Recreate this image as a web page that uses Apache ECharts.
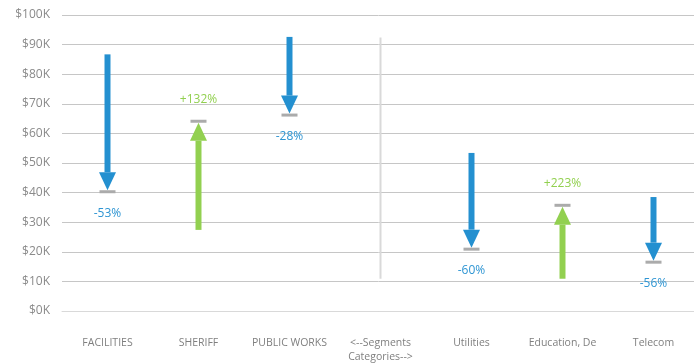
<!DOCTYPE html>
<html>
<head>
<meta charset="utf-8">
<script src="https://cdn.jsdelivr.net/npm/echarts@6/dist/echarts.min.js"></script>
<style>
  html, body { margin: 0; padding: 0; background: #fff; }
  #chart { width: 694px; height: 363px; }
</style>
</head>
<body>
<div id="chart"></div>
<script>
// Spend per category: prior value -> current value, in $K
const categories = ['FACILITIES', 'SHERIFF', 'PUBLIC WORKS', '<--Segments\nCategories-->', 'Utilities', 'Education, De', 'Telecom'];
const startValues = [86.7, 27.4, 92.6, null, 53.4, 10.9, 38.5];
const endValues   = [40.8, 63.6, 66.7, null, 21.4, 35.2, 17.0];
const changeLabels = ['-53%', '+132%', '-28%', '', '-60%', '+223%', '-56%'];
// Vertical separator between the two groups of categories
const dividerIndex = 3;
const dividerRange = [10.9, 92.4];
const yTicks = [0, 10, 20, 30, 40, 50, 60, 70, 80, 90, 100];

const BLUE = '#2490d0';
const GREEN = '#92d050';
const CAP = '#ababab';
const FONT = '"Open Sans", sans-serif';

const arrowData = categories.map((c, i) => [i, startValues[i], endValues[i], changeLabels[i]])
  .filter(d => d[1] != null);

function renderArrow(params, api) {
  const idx = api.value(0);
  const p0 = api.coord([idx, api.value(1)]);
  const p1 = api.coord([idx, api.value(2)]);
  const x = p0[0];
  const down = p1[1] > p0[1];
  const color = down ? BLUE : GREEN;
  const shaftW = 6, headW = 17, headH = 18, capW = 16, capH = 3;
  const dir = down ? 1 : -1;
  const tipY = p1[1];
  const baseY = tipY - dir * headH;
  const shaftTop = Math.min(p0[1], baseY);
  const shaftBottom = Math.max(p0[1], baseY);
  const label = changeLabels[idx];
  return {
    type: 'group',
    children: [
      { type: 'rect', shape: { x: x - shaftW / 2, y: shaftTop, width: shaftW, height: shaftBottom - shaftTop }, style: { fill: color } },
      { type: 'polygon', shape: { points: [[x - headW / 2, baseY], [x + headW / 2, baseY], [x, tipY]] }, style: { fill: color } },
      { type: 'rect', shape: { x: x - capW / 2, y: tipY - (down ? 0 : capH), width: capW, height: capH }, style: { fill: CAP } },
      { type: 'text', style: { text: label, x: x, y: tipY + dir * 23, align: 'center', verticalAlign: 'middle',
          fill: down ? '#2e95d3' : GREEN, font: '12px ' + FONT } }
    ]
  };
}

function renderDivider(params, api) {
  const a = api.coord([dividerIndex, dividerRange[0]]);
  const b = api.coord([dividerIndex, dividerRange[1]]);
  return { type: 'line', shape: { x1: a[0], y1: a[1], x2: b[0], y2: b[1] }, style: { stroke: '#d9d9d9', lineWidth: 2 } };
}

const chart = echarts.init(document.getElementById('chart'), null, { renderer: 'canvas' });
chart.setOption({
  animation: false,
  grid: { left: 62, top: 15, width: 637, height: 296, containLabel: false, outerBoundsMode: 'none' },
  xAxis: {
    type: 'category',
    data: categories,
    axisTick: { show: false },
    axisLine: { show: true, lineStyle: { color: '#d9d9d9', width: 1 } },
    axisLabel: { color: '#7f7f7f', fontFamily: FONT, fontSize: 10.5, margin: 25, lineHeight: 14, interval: 0 }
  },
  yAxis: {
    type: 'value',
    min: yTicks[0], max: yTicks[yTicks.length - 1], interval: 10,
    axisLine: { show: false },
    axisTick: { show: false },
    splitLine: { lineStyle: { color: '#c6c6c6', width: 1 } },
    axisLabel: { color: '#8a8a8a', fontFamily: FONT, fontSize: 12, margin: 12, formatter: v => '$' + v + 'K' }
  },
  series: [
    { type: 'custom', renderItem: renderDivider, data: [[dividerIndex, dividerRange[0]]], silent: true },
    { type: 'custom', renderItem: renderArrow, data: arrowData, encode: { x: 0, y: [1, 2] }, silent: true }
  ]
});
</script>
</body>
</html>
